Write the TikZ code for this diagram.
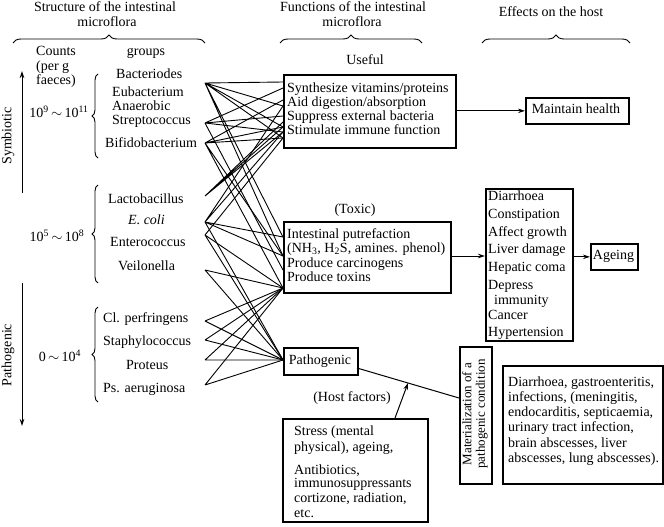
\documentclass[tikz,border=0pt]{standalone}
\usepackage{fontspec}
\setmainfont{Liberation Serif}
\usetikzlibrary{decorations.pathreplacing,arrows.meta}
\begin{document}
\begin{tikzpicture}[x=1pt,y=-1pt,
  font=\fontsize{14}{14.5}\selectfont,
  lbl/.style={inner sep=0pt, text height=9.5pt, text depth=3pt},
  txt/.style={inner sep=0pt, align=left, anchor=west},
  box/.style={draw, line width=1.7pt, inner sep=0pt},
  fan/.style={line width=0.9pt},
  arr/.style={-{Stealth[length=7pt,width=4.5pt]}, line width=1pt},
  brc/.style={decorate, decoration={brace, amplitude=8pt}, line width=0.9pt},
  lbrc/.style={decorate, decoration={brace, amplitude=6pt}, line width=0.9pt}]
\useasboundingbox (0,0) rectangle (664,527);

% headers
\node[lbl] (h1a) at (105,8) {Structure of the intestinal};
\node[lbl] (h1b) at (107,23) {microflora};
\node[lbl] (h2a) at (353,8) {Functions of the intestinal};
\node[lbl] (h2b) at (352,23) {microflora};
\node[lbl] (h3) at (551,13) {Effects on the host};
\draw[brc] (13,43) -- (205,43);
\draw[brc] (280,43) -- (422,43);
\draw[brc] (482,43) -- (630,43);

% left column
\node[lbl, anchor=west] (cnt1) at (36,52) {Counts};
\node[lbl, anchor=west] (cnt2) at (36,67) {(per g};
\node[lbl, anchor=west] (cnt3) at (36,81) {faeces)};
\node[lbl] (grp) at (146,52) {groups};

\node[lbl, anchor=west] (b1) at (116,75) {Bacteriodes};
\node[lbl, anchor=west] (b2) at (112,93) {Eubacterium};
\node[lbl, anchor=west] (b3) at (112,107) {Anaerobic};
\node[lbl, anchor=west] (b4) at (112,121) {Streptococcus};
\node[lbl, anchor=west] (b5) at (105,144) {Bifidobacterium};
\node[lbl, anchor=west] (b6) at (108,200) {Lactobacillus};
\node[lbl, anchor=west] (b7) at (128,221) {\textit{E. coli}};
\node[lbl, anchor=west] (b8) at (110,243) {Enterococcus};
\node[lbl, anchor=west] (b9) at (118,267) {Veilonella};
\node[lbl, anchor=west] (b10) at (103,319) {Cl. perfringens};
\node[lbl, anchor=west] (b11) at (103,342) {Staphylococcus};
\node[lbl, anchor=west] (b12) at (126,366) {Proteus};
\node[lbl, anchor=west] (b13) at (103,389) {Ps. aeruginosa};

\node[lbl] (c1) at (59,114) {10\textsuperscript{9}\,$\sim$\,10\textsuperscript{11}};
\node[lbl] (c2) at (57,238) {10\textsuperscript{5}\,$\sim$\,10\textsuperscript{8}};
\node[lbl] (c3) at (60,358) {0\,$\sim$\,10\textsuperscript{4}};
\draw[lbrc] (98,158) -- (98,74);
\draw[lbrc] (98,283) -- (98,185);
\draw[lbrc] (98,402) -- (98,307);

% vertical arrows
\coordinate (sy0) at (22,193);
\coordinate (sy1) at (22,71);
\coordinate (pa0) at (22,283);
\coordinate (pa1) at (22,426);
\draw[arr] (sy0) -- (sy1);
\draw[arr] (pa0) -- (pa1);
\node[lbl, rotate=90] (sym) at (8,136) {Symbiotic};
\node[lbl, rotate=90] (pat) at (8,355) {Pathogenic};

% function boxes
\node[lbl] (usefullbl) at (365,61) {Useful};
\node[box, anchor=north west, minimum width=172pt, minimum height=73pt] (useful) at (283,74) {};
\node[txt] (usefultxt) at (287,109) {Synthesize vitamins/proteins\\[-0.5pt]Aid digestion/absorption\\[-0.5pt]Suppress external bacteria\\[-0.5pt]Stimulate immune function};

\node[lbl] (toxlbl) at (355,210) {(Toxic)};
\node[box, anchor=north west, minimum width=167pt, minimum height=71pt] (toxic) at (283,221) {};
\node[txt] (toxictxt) at (287,255) {Intestinal putrefaction\\(NH\textsubscript{3}, H\textsubscript{2}S, amines. phenol)\\Produce carcinogens\\Produce toxins};

\node[box, anchor=north west, minimum width=74pt, minimum height=27pt] (patho) at (283,347) {};
\node[lbl] (pathotxt) at (320,361) {Pathogenic};

% effects
\node[box, anchor=north west, minimum width=103pt, minimum height=26pt] (maint) at (525,97) {};
\node[lbl] (mainttxt) at (576,110) {Maintain health};
\draw[arr] (useful.east |- maint.west) -- (maint.west);

\node[box, anchor=north west, minimum width=87pt, minimum height=152pt] (hosts) at (485,188) {};
\node[txt] (hoststxt) at (488,265) {Diarrhoea\\[3.3pt]Constipation\\[3.3pt]Affect growth\\[3.3pt]Liver damage\\[3.3pt]Hepatic coma\\[3.3pt]Depress\\\hspace{6pt}immunity\\[1pt]Cancer\\[2pt]Hypertension};
\draw[arr] (toxic.east |- 0,256) -- (hosts.west |- 0,256);

\node[box, anchor=north west, minimum width=47pt, minimum height=26pt] (ageing) at (590,243) {};
\node[lbl] (ageingtxt) at (613.5,256) {Ageing};
\draw[arr] (hosts.east |- ageing.west) -- (ageing.west);

\node[box, anchor=north west, minimum width=32pt, minimum height=137pt] (mat) at (459,346) {};
\node[rotate=90, align=center, inner sep=0pt, font=\fontsize{13}{13.5}\selectfont] (mattxt) at (475,414) {Materialization of a\\pathogenic condition};

\node[box, anchor=north west, minimum width=160pt, minimum height=118pt] (dis) at (502,365) {};
\node[txt] (distxt) at (508,421) {Diarrhoea, gastroenteritis,\\[0.7pt]infections, (meningitis,\\[0.7pt]endocarditis, septicaemia,\\[0.7pt]urinary tract infection,\\[0.7pt]brain abscesses, liver\\[0.7pt]abscesses, lung abscesses).};

\node[box, anchor=north west, minimum width=145pt, minimum height=103pt] (stress) at (282,418) {};
\node[txt] (stresstxt) at (294,472) {Stress (mental\\[1.5pt]physical), ageing,\\[8pt]Antibiotics,\\[-1pt]immunosuppressants\\cortizone, radiation,\\[1pt]etc.};

\node[lbl] (hostf) at (352,398) {(Host factors)};
\coordinate (pl) at (357,368);
\coordinate (ml) at (459,398);
\coordinate (hf) at (408,383);
\coordinate (sa) at (395,418);
\draw[line width=1pt] (pl) -- (ml);
\draw[arr] (sa) -- (hf);

% fan sources
\coordinate (sA) at (205,83);
\coordinate (sB) at (205,123);
\coordinate (sC) at (205,143);
\coordinate (sD) at (205,196);
\coordinate (sE) at (205,222);
\coordinate (sF) at (205,235);
\coordinate (sG) at (205,270);
\coordinate (sH) at (205,321);
\coordinate (sI) at (205,340);
\coordinate (sJ) at (205,360);
\coordinate (sK) at (205,385);
% fan targets
\coordinate (u1) at (283,82);
\coordinate (u2) at (283,88);
\coordinate (u3) at (283,100);
\coordinate (u4) at (283,106);
\coordinate (u5) at (283,116);
\coordinate (u6) at (283,122);
\coordinate (u7) at (283,127);
\coordinate (u8) at (283,132);
\coordinate (u9) at (283,138);
\coordinate (t1) at (283,237);
\coordinate (t2) at (283,256);
\coordinate (t3) at (283,270);
\coordinate (t4) at (283,288);
\coordinate (p1) at (283,360);

\draw[fan] (sA) -- (u1) (sA) -- (u4) (sA) -- (u7) (sA) -- (t1) (sA) -- (t2) (sA) -- (u9);
\draw[fan] (sB) -- (u2) (sB) -- (u5) (sB) -- (t3) (sB) -- (u8);
\draw[fan] (sC) -- (u3) (sC) -- (u7) (sC) -- (u9) (sC) -- (t4) (sC) -- (t2);
\draw[fan] (sD) -- (u6) (sD) -- (u7) (sD) -- (u8);
\draw[fan] (sE) -- (u4) (sE) -- (u8) (sE) -- (t1) (sE) -- (t2) (sE) -- (p1);
\draw[fan] (sF) -- (u9) (sF) -- (t4) (sF) -- (p1);
\draw[fan] (sG) -- (t4) (sG) -- (p1);
\draw[fan] (sH) -- (t4) (sH) -- (p1);
\draw[fan] (sI) -- (t4) (sI) -- (p1);
\draw[fan] (sJ) -- (t4) (sJ) -- (p1);
\draw[fan] (sK) -- (t4) (sK) -- (p1);
\end{tikzpicture}
\end{document}
